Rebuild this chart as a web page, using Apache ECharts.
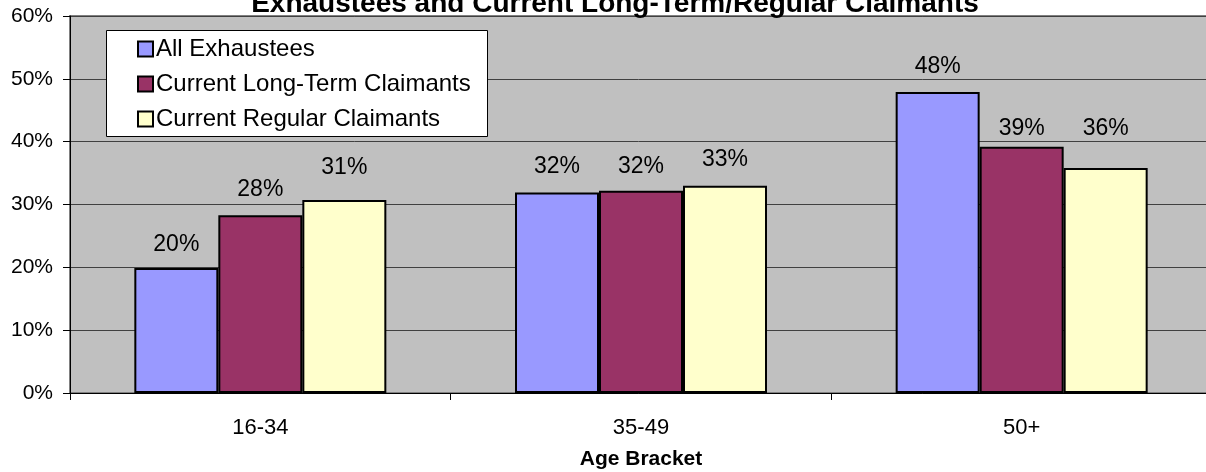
<!DOCTYPE html>
<html>
<head>
<meta charset="utf-8">
<script src="https://cdn.jsdelivr.net/npm/echarts@6/dist/echarts.min.js"></script>
<style>
  html, body { margin: 0; padding: 0; background: #ffffff; }
  #chart { width: 1206px; height: 472px; }
</style>
</head>
<body>
<div id="chart"></div>
<script>
// Age brackets on the category axis
const categories = ['16-34', '35-49', '50+'];

// Share of each group falling in each age bracket
const allExhaustees = [0.199, 0.319, 0.479];
const longTermClaimants = [0.283, 0.322, 0.392];
const regularClaimants = [0.307, 0.330, 0.358];

const seriesNames = ['All Exhaustees', 'Current Long-Term Claimants', 'Current Regular Claimants'];
const yTicks = [0, 0.1, 0.2, 0.3, 0.4, 0.5, 0.6];

const FONT = 'Arial, "Liberation Sans", Helvetica, sans-serif';
const colors = ['#9999FF', '#993366', '#FFFFCC'];
// spacing between each bar top and its value label
const labelGaps = [
  [12, 14, 14],
  [14, 13, 7],
  [21, 14, 28]
];

const pct = v => Math.round(v * 100) + '%';

function makeSeries(name, values, idx) {
  return {
    name: name,
    type: 'bar',
    barWidth: 84,
    barGap: '0%',
    itemStyle: { color: colors[idx], borderColor: '#000000', borderWidth: 2 },
    label: { show: true, position: 'top', fontFamily: FONT, fontSize: 23, color: '#000000',
             formatter: p => pct(p.value) },
    data: values.map((v, i) => ({ value: v, label: { distance: labelGaps[idx][i] } }))
  };
}

const chart = echarts.init(document.getElementById('chart'), null, { renderer: 'canvas' });
chart.setOption({
  animation: false,
  backgroundColor: '#ffffff',
  title: {
    text: 'Exhaustees and Current Long-Term/Regular Claimants',
    left: 610, top: -15, textAlign: 'center',
    textStyle: { fontFamily: FONT, fontSize: 28, fontWeight: 'bold', color: '#000000' }
  },
  grid: {
    left: 70, top: 16, bottom: 79, width: 1142,
    outerBoundsMode: 'none', containLabel: false,
    show: true, backgroundColor: '#C0C0C0', borderColor: '#808080', borderWidth: 2
  },
  graphic: [{
    type: 'rect', left: 106, top: 30, z: 5,
    shape: { width: 381, height: 106 },
    style: { fill: '#ffffff', stroke: '#000000', lineWidth: 1 }
  }],
  legend: {
    orient: 'vertical', left: 132, top: 32, z: 10,
    itemWidth: 15, itemHeight: 15, itemGap: 11,
    icon: 'rect',
    itemStyle: { borderColor: '#000000', borderWidth: 2 },
    textStyle: { fontFamily: FONT, fontSize: 24, color: '#000000', padding: [0, 0, 0, -2] },
    data: seriesNames
  },
  xAxis: {
    type: 'category', data: categories,
    name: 'Age Bracket', nameLocation: 'middle', nameGap: 56,
    nameTextStyle: { fontFamily: FONT, fontSize: 21, fontWeight: 'bold', color: '#000000' },
    axisLine: { lineStyle: { color: '#000000', width: 1 } },
    axisTick: { show: true, alignWithLabel: false, length: 7, lineStyle: { color: '#000000' } },
    axisLabel: { fontFamily: FONT, fontSize: 22, color: '#000000', margin: 24 }
  },
  yAxis: {
    type: 'value', min: yTicks[0], max: yTicks[yTicks.length - 1], interval: 0.1,
    axisLine: { show: true, lineStyle: { color: '#000000', width: 1 } },
    axisTick: { show: true, length: 7, lineStyle: { color: '#000000' } },
    axisLabel: { fontFamily: FONT, fontSize: 21, color: '#000000', margin: 17, formatter: v => pct(v) },
    splitLine: { show: true, lineStyle: { color: '#404040', width: 1 } }
  },
  series: [
    makeSeries(seriesNames[0], allExhaustees, 0),
    makeSeries(seriesNames[1], longTermClaimants, 1),
    makeSeries(seriesNames[2], regularClaimants, 2)
  ]
});
</script>
</body>
</html>
